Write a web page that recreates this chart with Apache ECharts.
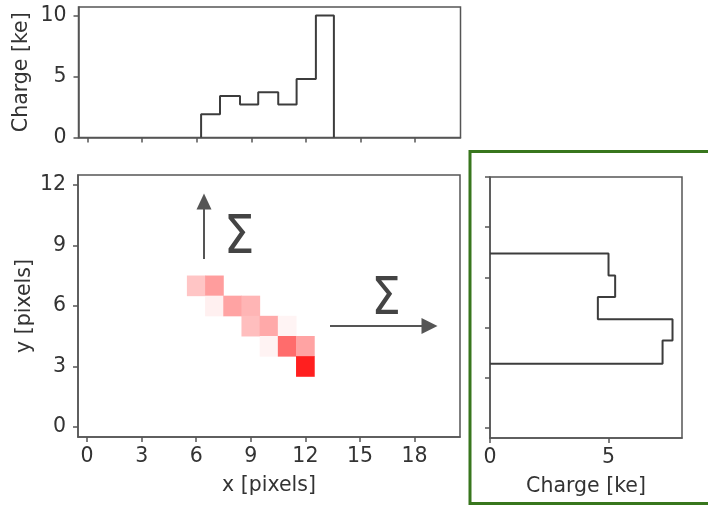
<!DOCTYPE html>
<html>
<head>
<meta charset="utf-8">
<title>Cluster charge projections</title>
<script src="https://cdn.jsdelivr.net/npm/echarts@6/dist/echarts.min.js"></script>
<style>
  html, body { margin: 0; padding: 0; background: #ffffff; }
  #chart { width: 708px; height: 506px; }
</style>
</head>
<body>
<div id="chart"></div>
<script>
// Pixel grid of the sensor (category indices)
const xPixels = ['0','1','2','3','4','5','6','7','8','9','10','11','12','13','14','15','16','17','18','19','20'];
const yPixels = ['0','1','2','3','4','5','6','7','8','9','10','11','12'];
const xTickValues = [0, 3, 6, 9, 12, 15, 18];
const yTickValues = [0, 3, 6, 9, 12];

// Charge deposited in each hit pixel [ke]
const cellX = [6, 7, 7, 8, 9, 9, 10, 11, 10, 11, 12, 12];
const cellY = [7, 7, 6, 6, 6, 5, 5, 5, 4, 4, 4, 3];
const cellCharge = [1.9, 3.2, 0.5, 3.0, 2.4, 2.1, 2.8, 0.35, 0.4, 4.8, 3.0, 7.3];

// Projection onto x (sum over y): bin edges and summed charge
const colEdges = [6.24, 7.28, 8.38, 9.38, 10.48, 11.49, 12.55, 13.54];
const colCharge = [1.9, 3.4, 2.7, 3.7, 2.7, 4.8, 10.0];
const topChargeTicks = [0, 5, 10];

// Projection onto y (sum over x): bin edges and summed charge
const rowEdges = [3.2, 4.36, 5.41, 6.52, 7.6, 8.69];
const rowCharge = [7.28, 7.7, 4.55, 5.28, 5.0];
const rightChargeTicks = [0, 5];
const rightYTicks = [0, 2.5, 5, 7.5, 10, 12.5];

const FONT = 'DejaVu Sans';
const TEXT = '#333333';
const FRAME = '#555555';
const HIST = '#3c3c3c';
const FS = 20.5;

// Step outline for the x projection
const topStep = [[colEdges[0], 0]];
colCharge.forEach((v, i) => {
  topStep.push([colEdges[i], v]);
  topStep.push([colEdges[i + 1], v]);
});
topStep.push([colEdges[colEdges.length - 1], 0]);

// Step outline for the y projection (horizontal bars)
const rightStep = [[0, rowEdges[0]]];
rowCharge.forEach((v, i) => {
  rightStep.push([v, rowEdges[i]]);
  rightStep.push([v, rowEdges[i + 1]]);
});
rightStep.push([0, rowEdges[rowEdges.length - 1]]);

const heatData = cellX.map((x, i) => [x, cellY[i], cellCharge[i]]);

const frameGrid = (pos) => Object.assign({
  show: true, borderColor: FRAME, borderWidth: 1.5, backgroundColor: 'transparent'
}, pos);

const tickStyle = { show: true, length: 5, lineStyle: { color: FRAME, width: 1.5 } };
const lineStyleAxis = { show: true, onZero: false, lineStyle: { color: FRAME, width: 1.5 } };
const labelStyle = { color: TEXT, fontFamily: FONT, fontSize: FS };
const nameStyle = { color: TEXT, fontFamily: FONT, fontSize: FS };

const chart = echarts.init(document.getElementById('chart'), null, { renderer: 'canvas' });

chart.setOption({
  animation: false,
  backgroundColor: '#ffffff',
  grid: [
    frameGrid({ left: 78.5, top: 7, width: 382, height: 130.5 }),
    frameGrid({ left: 78, top: 175, width: 382, height: 262 }),
    frameGrid({ left: 490, top: 177, width: 192, height: 261 })
  ],
  xAxis: [
    {
      gridIndex: 0, type: 'value', min: -0.5, max: 20.5,
      axisLine: lineStyleAxis,
      axisTick: Object.assign({ customValues: xTickValues }, tickStyle),
      axisLabel: { show: false },
      splitLine: { show: false }
    },
    {
      gridIndex: 1, type: 'category', data: xPixels, boundaryGap: true,
      axisLine: lineStyleAxis,
      axisTick: Object.assign({ alignWithLabel: true, interval: (i) => xTickValues.includes(i) }, tickStyle),
      axisLabel: Object.assign({ interval: (i) => xTickValues.includes(i), margin: 9.5 }, labelStyle),
      splitLine: { show: false },
      name: 'x [pixels]', nameLocation: 'middle', nameGap: 38, nameMoveOverlap: false,
      nameTextStyle: nameStyle
    },
    {
      gridIndex: 2, type: 'value', min: 0, max: 8.1,
      axisLine: lineStyleAxis,
      axisTick: Object.assign({ customValues: rightChargeTicks }, tickStyle),
      axisLabel: Object.assign({ customValues: rightChargeTicks, margin: 9 }, labelStyle),
      splitLine: { show: false },
      name: 'Charge [ke]', nameLocation: 'middle', nameGap: 38, nameMoveOverlap: false,
      nameTextStyle: nameStyle
    }
  ],
  yAxis: [
    {
      gridIndex: 0, type: 'value', min: 0, max: 10.7,
      axisLine: lineStyleAxis,
      axisTick: Object.assign({ customValues: topChargeTicks }, tickStyle),
      axisLabel: Object.assign({ customValues: topChargeTicks, margin: 12 }, labelStyle),
      splitLine: { show: false },
      name: 'Charge [ke]', nameLocation: 'middle', nameGap: 46, nameMoveOverlap: false,
      nameTextStyle: nameStyle
    },
    {
      gridIndex: 1, type: 'category', data: yPixels, boundaryGap: true,
      axisLine: lineStyleAxis,
      axisTick: Object.assign({ alignWithLabel: true, interval: (i) => yTickValues.includes(i) }, tickStyle),
      axisLabel: Object.assign({ interval: (i) => yTickValues.includes(i), margin: 12 }, labelStyle),
      splitLine: { show: false },
      name: 'y [pixels]', nameLocation: 'middle', nameGap: 43, nameMoveOverlap: false,
      nameTextStyle: nameStyle
    },
    {
      gridIndex: 2, type: 'value', min: -0.5, max: 12.5,
      axisLine: lineStyleAxis,
      axisTick: Object.assign({ customValues: rightYTicks }, tickStyle),
      axisLabel: { show: false },
      splitLine: { show: false }
    }
  ],
  visualMap: {
    type: 'continuous', show: false, seriesIndex: 1,
    min: 0, max: 8.3,
    inRange: { color: ['#ffffff', '#ff0000'] }
  },
  series: [
    {
      type: 'line', xAxisIndex: 0, yAxisIndex: 0,
      data: topStep, symbol: 'none', silent: true,
      lineStyle: { color: HIST, width: 2 }
    },
    {
      type: 'heatmap', xAxisIndex: 1, yAxisIndex: 1,
      data: heatData, silent: true,
      emphasis: { disabled: true }
    },
    {
      type: 'line', xAxisIndex: 2, yAxisIndex: 2,
      data: rightStep, symbol: 'none', silent: true,
      lineStyle: { color: HIST, width: 2 }
    }
  ],
  graphic: [
    // Frame around the y projection panel
    {
      type: 'rect', silent: true,
      shape: { x: 470, y: 151.5, width: 260, height: 352 },
      style: { fill: null, stroke: '#38761d', lineWidth: 3 }
    },
    // Summation arrows
    {
      type: 'line', silent: true,
      shape: { x1: 204, y1: 259, x2: 204, y2: 207 },
      style: { stroke: '#555555', lineWidth: 2 }
    },
    {
      type: 'polygon', silent: true,
      shape: { points: [[204, 193.5], [196.5, 209.5], [211.5, 209.5]] },
      style: { fill: '#555555' }
    },
    {
      type: 'line', silent: true,
      shape: { x1: 330, y1: 326, x2: 424, y2: 326 },
      style: { stroke: '#555555', lineWidth: 2 }
    },
    {
      type: 'polygon', silent: true,
      shape: { points: [[437.5, 326], [421.5, 318], [421.5, 334]] },
      style: { fill: '#555555' }
    },
    {
      type: 'text', silent: true, x: 239, y: 238.5, scaleX: 0.9,
      style: { text: 'Σ', fill: '#444444', font: '54px "DejaVu Sans"', align: 'center', verticalAlign: 'middle' }
    },
    {
      type: 'text', silent: true, x: 386, y: 301, scaleX: 0.92,
      style: { text: 'Σ', fill: '#444444', font: '51px "DejaVu Sans"', align: 'center', verticalAlign: 'middle' }
    }
  ]
});
</script>
</body>
</html>
